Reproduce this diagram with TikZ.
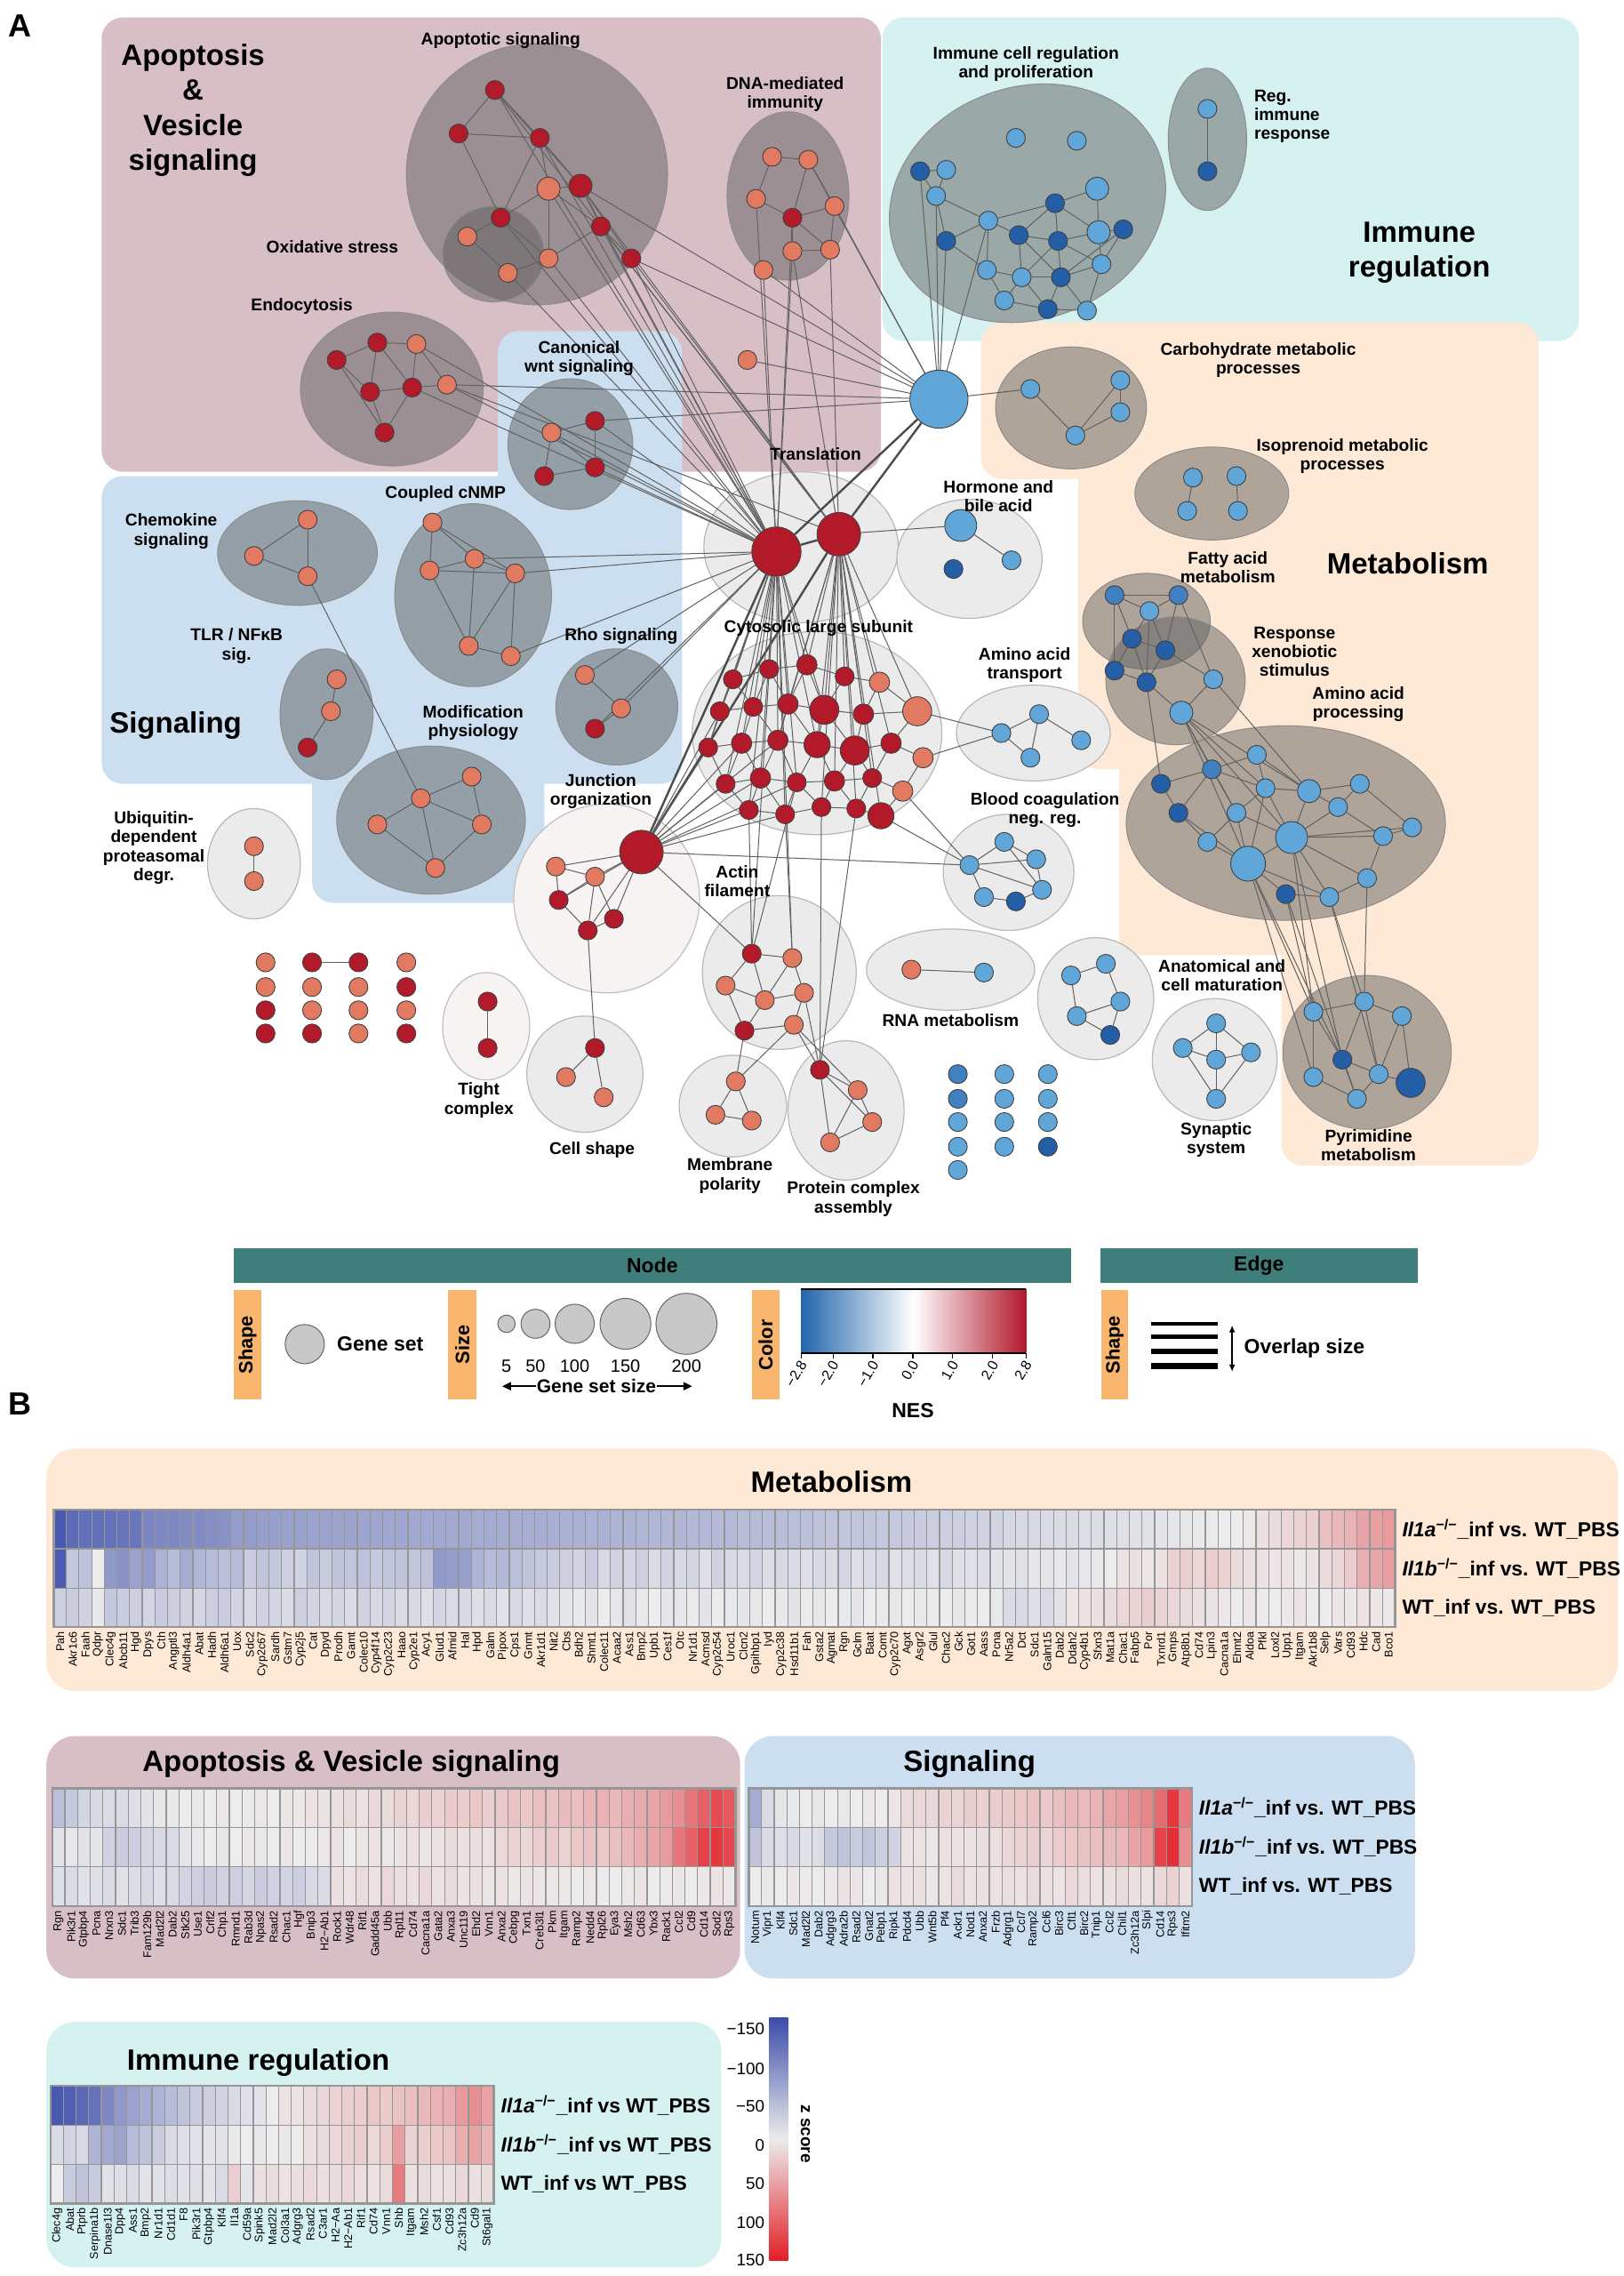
\documentclass[tikz,border=0pt]{standalone}
\usepackage{fontspec}
\setmainfont{Liberation Sans}
\usetikzlibrary{arrows.meta}
\pgfdeclarelayer{bg}
\pgfdeclarelayer{mid}
\pgfsetlayers{bg,mid,main}

\definecolor{dr}{RGB}{178,26,42}
\definecolor{sal}{RGB}{226,122,98}
\definecolor{lb}{RGB}{96,166,216}
\definecolor{mb}{RGB}{64,128,192}
\definecolor{db}{RGB}{36,94,166}
\definecolor{mauve}{RGB}{216,191,198}
\definecolor{cyanbg}{RGB}{213,241,240}
\definecolor{bluebg}{RGB}{203,223,240}
\definecolor{peach}{RGB}{253,233,213}
\definecolor{legteal}{RGB}{62,127,124}
\definecolor{tabor}{RGB}{249,182,110}
\definecolor{hmblue}{RGB}{59,76,170}
\definecolor{hmred}{RGB}{228,30,38}
\definecolor{hmgray}{RGB}{236,236,236}
\definecolor{hmline}{RGB}{150,150,150}
\definecolor{nesblue}{RGB}{33,102,172}
\definecolor{nesred}{RGB}{178,24,43}
\definecolor{pinkwhite}{RGB}{246,243,242}
\definecolor{setgray}{RGB}{200,200,200}

\tikzset{
  lab/.style={font=\bfseries\fontsize{9.6}{10.6}\selectfont, align=center, inner sep=0pt},
  biglab/.style={font=\bfseries\fontsize{16.5}{19.6}\selectfont, align=center, inner sep=0pt},
  gnd/.style={circle, draw=black!75, line width=0.45pt, inner sep=0pt},
  lnk/.style={draw=black!62, line width=0.5pt},
  thk/.style={draw=black!70, line width=1.2pt},
  dcl/.style={fill=black!62, fill opacity=0.5, draw=black!45, line width=0.5pt},
  lcl/.style={fill=black!8, draw=black!28, line width=0.6pt},
  wcl/.style={fill=pinkwhite, draw=black!25, line width=0.6pt},
  gene/.style={font=\fontsize{6.3}{6.3}\selectfont, inner sep=0pt},
  rowlab/.style={font=\bfseries\fontsize{11.4}{12}\selectfont, anchor=west, inner sep=0pt},
  btitle/.style={font=\bfseries\fontsize{16.5}{18}\selectfont, inner sep=0pt},
  legh/.style={font=\bfseries\fontsize{11.5}{12}\selectfont, inner sep=0pt},
  legn/.style={font=\fontsize{10}{10}\selectfont, inner sep=0pt},
  legk/.style={font=\fontsize{8}{8}\selectfont, inner sep=0pt},
  legs/.style={font=\bfseries\fontsize{10.5}{11}\selectfont, inner sep=0pt},
  tabt/.style={font=\bfseries\fontsize{10.9}{11}\selectfont, rotate=90, inner sep=0pt},
  szc/.style={circle, fill=setgray, draw=black!60, line width=0.5pt, inner sep=0pt},
}

\newcommand\gnode[5]{\node[gnd, fill=#4, minimum size=#5*1.632pt] (#1) at (#2,#3) {};}
\newcommand\hmrow[3]{%
  \foreach \vv [count=\ci] in {#3}{%
    \pgfmathtruncatemacro\pp{abs(\vv)}%
    \ifnum\vv<0 \colorlet{cc}{hmblue!\pp!hmgray}\else\colorlet{cc}{hmred!\pp!hmgray}\fi
    \filldraw[fill=cc, draw=hmline, line width=0.6pt] ({#1+(\ci-1)*8.72},#2) rectangle ++(8.72,27);
  }}
\newcommand\hmgenes[4]{%
  \foreach \gname [count=\ci] in {#4}{%
    \node[gene, rotate=90, anchor=east] (#3\ci) at ({#1+(\ci-0.5)*8.72},#2) {\gname};
  }}
\newcommand\koLab[2]{\textit{Il1#1}\textsuperscript{\textminus/\textminus}\_inf vs#2 WT\_PBS}

\begin{document}
\begin{tikzpicture}[x=0.816pt,y=-0.816pt]
\useasboundingbox (0,0) rectangle (1119,1568);

% ---------------- backgrounds ----------------
\begin{pgfonlayer}{bg}
\fill[white] (0,0) rectangle (1119,1568);
\fill[cyanbg, rounded corners=12pt] (608,12) rectangle (1088,235);
\fill[peach, rounded corners=12pt] (676,222) rectangle (1060,330);
\fill[peach, rounded corners=12pt] (743,290) rectangle (1060,530);
\fill[peach, rounded corners=12pt] (771,480) rectangle (1060,658);
\fill[peach, rounded corners=12pt] (883,600) rectangle (1060,803);
\fill[mauve, rounded corners=12pt] (70,12) rectangle (607,325);
\fill[bluebg, rounded corners=12pt] (70,328) rectangle (470,540);
\fill[bluebg, rounded corners=12pt] (343,228) rectangle (470,345);
\fill[bluebg, rounded corners=12pt] (215,480) rectangle (375,622);
% dark clusters
\draw[dcl] (370,120) ellipse [x radius=90, y radius=90];
\draw[dcl] (340,175) ellipse [x radius=35, y radius=33];
\draw[dcl] (543,135) ellipse [x radius=42, y radius=58];
\draw[dcl] (270,268) ellipse [x radius=63, y radius=53];
\draw[dcl] (393,306) ellipse [x radius=43, y radius=45];
\draw[dcl] (205,381) ellipse [x radius=55, y radius=36];
\draw[dcl] (326,410) ellipse [x radius=54, y radius=63];
\draw[dcl] (225,492) ellipse [x radius=32, y radius=45];
\draw[dcl] (425,487) ellipse [x radius=42, y radius=40];
\draw[dcl] (297,565) ellipse [x radius=65, y radius=51];
\draw[dcl, rotate around={20:(708,140)}] (708,140) ellipse [x radius=97, y radius=80];
\draw[dcl] (832,96) ellipse [x radius=27, y radius=49];
\draw[dcl] (738,281) ellipse [x radius=52, y radius=42];
\draw[dcl] (835,340) ellipse [x radius=53, y radius=32];
\draw[dcl] (790,428) ellipse [x radius=44, y radius=33];
\draw[dcl] (810,469) ellipse [x radius=48, y radius=44];
\draw[dcl] (886,567) ellipse [x radius=110, y radius=67];
\draw[dcl] (942,725) ellipse [x radius=58, y radius=53];
% light clusters
\draw[lcl] (552,377) ellipse [x radius=67, y radius=52];
\draw[lcl] (563,505) ellipse [x radius=86, y radius=70];
\draw[lcl] (668,385) ellipse [x radius=50, y radius=41];
\draw[lcl] (712,505) ellipse [x radius=53, y radius=33];
\draw[lcl] (695,601) ellipse [x radius=45, y radius=40];
\draw[lcl] (175,595) ellipse [x radius=32, y radius=38];
\draw[wcl] (418,619) ellipse [x radius=64, y radius=65];
\draw[lcl] (537,670) ellipse [x radius=53, y radius=53];
\draw[lcl] (655,668) ellipse [x radius=58, y radius=28];
\draw[lcl] (755,688) ellipse [x radius=40, y radius=42];
\draw[lcl] (837,730) ellipse [x radius=43, y radius=42];
\draw[wcl] (335,707) ellipse [x radius=30, y radius=37];
\draw[lcl] (403,740) ellipse [x radius=40, y radius=40];
\draw[lcl] (505,762) ellipse [x radius=37, y radius=35];
\draw[lcl] (583,765) ellipse [x radius=40, y radius=48];
% panel B blocks
\fill[peach, rounded corners=16pt] (32,998) rectangle (1115,1165);
\fill[mauve, rounded corners=16pt] (32,1196) rectangle (510,1363);
\fill[bluebg, rounded corners=16pt] (513,1196) rectangle (975,1363);
\fill[cyanbg, rounded corners=16pt] (32,1393) rectangle (497,1562);
\end{pgfonlayer}

% ---------------- network nodes ----------------
% apoptotic signaling
\gnode{a1}{341}{62}{dr}{6.5}
\gnode{a2}{316}{92}{dr}{6.5}
\gnode{a3}{372}{95}{dr}{6.5}
\gnode{a4}{378}{130}{sal}{8}
\gnode{a5}{400}{128}{dr}{8}
\gnode{a6}{414}{156}{dr}{6.5}
\gnode{a7}{345}{150}{dr}{6.5}
\gnode{a8}{322}{163}{sal}{6.5}
\gnode{a9}{350}{188}{sal}{6.5}
\gnode{a10}{378}{178}{sal}{6.5}
\gnode{a11}{435}{178}{dr}{6.5}
% DNA-mediated immunity
\gnode{d1}{532}{108}{sal}{6.5}
\gnode{d2}{557}{110}{sal}{6.5}
\gnode{d3}{521}{137}{sal}{6.5}
\gnode{d4}{546}{150}{dr}{6.5}
\gnode{d5}{575}{142}{sal}{6.5}
\gnode{d6}{546}{173}{sal}{6.5}
\gnode{d7}{572}{172}{sal}{6.5}
\gnode{s1}{526}{186}{sal}{6.5}
\gnode{s2}{515}{248}{sal}{6.5}
% endocytosis
\gnode{e1}{232}{248}{dr}{6.5}
\gnode{e2}{260}{236}{dr}{6.5}
\gnode{e3}{287}{237}{sal}{6.5}
\gnode{e4}{255}{270}{dr}{6.5}
\gnode{e5}{284}{267}{dr}{6.5}
\gnode{e6}{308}{265}{sal}{6.5}
\gnode{e7}{265}{298}{dr}{6.5}
% canonical wnt
\gnode{w1}{410}{290}{dr}{6.5}
\gnode{w2}{380}{298}{sal}{6.5}
\gnode{w3}{410}{322}{dr}{6.5}
\gnode{w4}{375}{328}{dr}{6.5}
% chemokine
\gnode{c1}{212}{358}{sal}{6.5}
\gnode{c2}{175}{383}{sal}{6.5}
\gnode{c3}{212}{397}{sal}{6.5}
% coupled cNMP
\gnode{n1}{298}{360}{sal}{6.5}
\gnode{n2}{327}{385}{sal}{6.5}
\gnode{n3}{296}{393}{sal}{6.5}
\gnode{n4}{355}{395}{sal}{6.5}
\gnode{n5}{323}{445}{sal}{6.5}
\gnode{n6}{352}{452}{sal}{6.5}
% TLR
\gnode{t1}{232}{468}{sal}{6.5}
\gnode{t2}{228}{490}{sal}{6.5}
\gnode{t3}{212}{515}{dr}{6.5}
% Rho
\gnode{r1}{403}{465}{sal}{6.5}
\gnode{r2}{428}{488}{sal}{6.5}
\gnode{r3}{410}{502}{dr}{6.5}
% modification physiology
\gnode{m1}{290}{550}{sal}{6.5}
\gnode{m2}{325}{535}{sal}{6.5}
\gnode{m3}{260}{568}{sal}{6.5}
\gnode{m4}{332}{568}{sal}{6.5}
\gnode{m5}{300}{598}{sal}{6.5}
% ubiquitin
\gnode{u1}{175}{583}{sal}{6.5}
\gnode{u2}{175}{607}{sal}{6.5}
% hubs
\gnode{T1}{535}{380}{dr}{17}
\gnode{T2}{578}{368}{dr}{15}
\gnode{H}{647}{275}{lb}{20}
\gnode{J1}{442}{587}{dr}{15}
% cytosolic large subunit
\gnode{k1}{505}{468}{dr}{6.5}
\gnode{k2}{530}{461}{dr}{6.5}
\gnode{k3}{556}{458}{dr}{7}
\gnode{k4}{582}{466}{dr}{6.5}
\gnode{k5}{606}{470}{sal}{7}
\gnode{k6}{632}{490}{sal}{10}
\gnode{k7}{496}{490}{dr}{6.5}
\gnode{k8}{519}{487}{dr}{6.5}
\gnode{k9}{543}{485}{dr}{7}
\gnode{k10}{568}{489}{dr}{10}
\gnode{k11}{595}{492}{dr}{7}
\gnode{k12}{488}{515}{dr}{6.5}
\gnode{k13}{511}{512}{dr}{7}
\gnode{k14}{536}{510}{dr}{7}
\gnode{k15}{563}{513}{dr}{9}
\gnode{k16}{589}{517}{dr}{10}
\gnode{k17}{614}{512}{dr}{7}
\gnode{k18}{636}{522}{sal}{7}
\gnode{k19}{500}{540}{dr}{6.5}
\gnode{k20}{524}{536}{dr}{7}
\gnode{k21}{549}{539}{dr}{6.5}
\gnode{k22}{575}{538}{dr}{7}
\gnode{k23}{601}{536}{dr}{6.5}
\gnode{k24}{622}{545}{sal}{7}
\gnode{k25}{516}{558}{dr}{6.5}
\gnode{k26}{541}{561}{dr}{6.5}
\gnode{k27}{566}{556}{dr}{6.5}
\gnode{k28}{590}{557}{dr}{6.5}
\gnode{k29}{607}{562}{dr}{9}
% junction
\gnode{j2}{383}{597}{sal}{6.5}
\gnode{j3}{385}{620}{dr}{6.5}
\gnode{j4}{410}{604}{sal}{6.5}
\gnode{j5}{423}{633}{dr}{6.5}
\gnode{j6}{405}{641}{dr}{6.5}
% actin
\gnode{f1}{518}{657}{dr}{6.5}
\gnode{f2}{546}{660}{sal}{6.5}
\gnode{f3}{500}{679}{sal}{6.5}
\gnode{f4}{527}{689}{sal}{6.5}
\gnode{f5}{554}{684}{sal}{6.5}
\gnode{f6}{513}{710}{dr}{6.5}
\gnode{f7}{547}{706}{sal}{6.5}
% tight, cell shape, membrane, protein complex
\gnode{tc1}{336}{690}{dr}{6.5}
\gnode{tc2}{336}{722}{dr}{6.5}
\gnode{cs1}{410}{722}{dr}{6.5}
\gnode{cs2}{390}{742}{sal}{6.5}
\gnode{cs3}{416}{756}{sal}{6.5}
\gnode{mp1}{507}{745}{sal}{6.5}
\gnode{mp2}{493}{768}{sal}{6.5}
\gnode{mp3}{518}{772}{sal}{6.5}
\gnode{pc1}{565}{737}{dr}{6.5}
\gnode{pc2}{591}{751}{sal}{6.5}
\gnode{pc3}{601}{773}{sal}{6.5}
\gnode{pc4}{572}{787}{sal}{6.5}
% hormone, transport, blood, rna
\gnode{h1}{662}{362}{lb}{11}
\gnode{h2}{657}{392}{db}{6.5}
\gnode{h3}{697}{386}{lb}{6.5}
\gnode{at1}{690}{505}{lb}{6.5}
\gnode{at2}{716}{492}{lb}{6.5}
\gnode{at3}{710}{522}{lb}{6.5}
\gnode{at4}{745}{510}{lb}{6.5}
\gnode{b1}{668}{596}{lb}{6.5}
\gnode{b2}{692}{580}{lb}{6.5}
\gnode{b3}{714}{592}{lb}{6.5}
\gnode{b4}{718}{613}{lb}{6.5}
\gnode{b5}{700}{621}{db}{6.5}
\gnode{b6}{678}{618}{lb}{6.5}
\gnode{rn1}{628}{668}{sal}{6.5}
\gnode{rn2}{678}{670}{lb}{6.5}
% anatomical, synaptic
\gnode{an1}{738}{672}{lb}{6.5}
\gnode{an2}{762}{664}{lb}{6.5}
\gnode{an3}{742}{700}{lb}{6.5}
\gnode{an4}{772}{690}{lb}{6.5}
\gnode{an5}{765}{713}{db}{6.5}
\gnode{sy1}{838}{705}{lb}{6.5}
\gnode{sy2}{815}{722}{lb}{6.5}
\gnode{sy3}{838}{730}{lb}{6.5}
\gnode{sy4}{862}{725}{lb}{6.5}
\gnode{sy5}{838}{757}{lb}{6.5}
% immune cell regulation
\gnode{i1}{700}{95}{lb}{6.5}
\gnode{i2}{742}{97}{lb}{6.5}
\gnode{i3}{634}{118}{db}{6.5}
\gnode{i4}{652}{117}{lb}{6.5}
\gnode{i5}{645}{135}{lb}{6.5}
\gnode{i6}{727}{140}{db}{6.5}
\gnode{i7}{756}{130}{lb}{8}
\gnode{i8}{681}{152}{lb}{6.5}
\gnode{i9}{702}{162}{db}{6.5}
\gnode{i10}{729}{166}{db}{6.5}
\gnode{i11}{757}{160}{lb}{8}
\gnode{i12}{774}{158}{db}{6.5}
\gnode{i13}{652}{166}{db}{6.5}
\gnode{i14}{680}{186}{lb}{6.5}
\gnode{i15}{704}{191}{lb}{6.5}
\gnode{i16}{731}{191}{db}{6.5}
\gnode{i17}{759}{182}{lb}{6.5}
\gnode{i18}{722}{213}{db}{6.5}
\gnode{i19}{749}{214}{lb}{6.5}
\gnode{i20}{692}{207}{lb}{6.5}
\gnode{ri1}{832}{75}{lb}{6.5}
\gnode{ri2}{832}{118}{db}{6.5}
% metabolism
\gnode{cb1}{710}{268}{lb}{6.5}
\gnode{cb2}{741}{300}{lb}{6.5}
\gnode{cb3}{772}{262}{lb}{6.5}
\gnode{cb4}{772}{284}{lb}{6.5}
\gnode{ip1}{822}{329}{lb}{6.5}
\gnode{ip2}{852}{328}{lb}{6.5}
\gnode{ip3}{818}{352}{lb}{6.5}
\gnode{ip4}{853}{352}{lb}{6.5}
\gnode{fa1}{768}{410}{mb}{6.5}
\gnode{fa2}{792}{421}{lb}{6.5}
\gnode{fa3}{812}{410}{mb}{6.5}
\gnode{fa4}{780}{440}{db}{6.5}
\gnode{fa5}{803}{448}{db}{6.5}
\gnode{fa6}{790}{470}{db}{6.5}
\gnode{fa7}{836}{468}{lb}{6.5}
\gnode{fa8}{814}{491}{lb}{8}
\gnode{fa9}{768}{462}{db}{6.5}
\gnode{ap1}{860}{595}{lb}{12}
\gnode{ap2}{890}{577}{lb}{11}
\gnode{ap3}{902}{545}{lb}{8}
\gnode{ap4}{872}{543}{lb}{6.5}
\gnode{ap5}{835}{530}{mb}{6.5}
\gnode{ap6}{812}{560}{db}{6.5}
\gnode{ap7}{832}{580}{lb}{6.5}
\gnode{ap8}{852}{560}{lb}{6.5}
\gnode{ap9}{922}{556}{lb}{6.5}
\gnode{ap10}{937}{540}{lb}{6.5}
\gnode{ap11}{953}{576}{lb}{6.5}
\gnode{ap12}{973}{570}{lb}{6.5}
\gnode{ap13}{886}{616}{db}{6.5}
\gnode{ap14}{916}{618}{lb}{6.5}
\gnode{ap15}{942}{605}{lb}{6.5}
\gnode{ap16}{800}{540}{db}{6.5}
\gnode{ap17}{866}{520}{lb}{6.5}
\gnode{py1}{905}{697}{lb}{6.5}
\gnode{py2}{940}{690}{lb}{6.5}
\gnode{py3}{966}{700}{lb}{6.5}
\gnode{py4}{925}{730}{db}{6.5}
\gnode{py5}{950}{740}{lb}{6.5}
\gnode{py6}{972}{746}{db}{10}
\gnode{py7}{935}{757}{lb}{6.5}
\gnode{py8}{905}{742}{lb}{6.5}
% unclustered grids
\gnode{g11}{183}{663}{sal}{6.5}
\gnode{g12}{183}{680}{sal}{6.5}
\gnode{g13}{183}{696}{dr}{6.5}
\gnode{g14}{183}{712}{dr}{6.5}
\gnode{g21}{215}{663}{dr}{6.5}
\gnode{g22}{215}{680}{sal}{6.5}
\gnode{g23}{215}{696}{sal}{6.5}
\gnode{g24}{215}{712}{dr}{6.5}
\gnode{g31}{247}{663}{dr}{6.5}
\gnode{g32}{247}{680}{sal}{6.5}
\gnode{g33}{247}{696}{sal}{6.5}
\gnode{g34}{247}{712}{sal}{6.5}
\gnode{g41}{280}{663}{sal}{6.5}
\gnode{g42}{280}{680}{dr}{6.5}
\gnode{g43}{280}{696}{sal}{6.5}
\gnode{g44}{280}{712}{dr}{6.5}
\gnode{q11}{660}{740}{mb}{6.5}
\gnode{q12}{660}{757}{mb}{6.5}
\gnode{q13}{660}{773}{lb}{6.5}
\gnode{q14}{660}{790}{lb}{6.5}
\gnode{q15}{660}{806}{lb}{6.5}
\gnode{q21}{692}{740}{lb}{6.5}
\gnode{q22}{692}{757}{lb}{6.5}
\gnode{q23}{692}{773}{lb}{6.5}
\gnode{q24}{692}{790}{lb}{6.5}
\gnode{q31}{722}{740}{lb}{6.5}
\gnode{q32}{722}{757}{lb}{6.5}
\gnode{q33}{722}{773}{lb}{6.5}
\gnode{q34}{722}{790}{db}{6.5}

% ---------------- edges ----------------
\begin{pgfonlayer}{mid}
\foreach \a/\b in {a1/a2,a1/a3,a2/a3,a2/a7,a3/a4,a3/a5,a4/a5,a4/a7,a5/a6,a4/a10,a7/a8,a7/a10,a8/a9,a9/a10,a10/a6,a5/a11,a6/a11,a1/a5,a3/a7,a4/a6,
  d1/d2,d1/d3,d2/d4,d3/d4,d4/d5,d4/d6,d4/d7,d6/d7,d5/d7,d2/d5,
  e1/e2,e2/e3,e1/e4,e2/e4,e2/e5,e3/e5,e4/e5,e5/e6,e4/e7,e5/e7,e3/e6,e1/e7,
  w1/w2,w1/w3,w2/w4,w3/w4,w2/w3,
  c1/c2,c1/c3,c2/c3,c3/m1,
  n1/n2,n1/n3,n2/n3,n2/n4,n3/n4,n3/n5,n4/n5,n1/n4,n2/n5,n4/n6,n5/n6,
  t1/t2,t2/t3,r1/r2,r2/r3,
  m1/m2,m1/m3,m1/m4,m2/m4,m3/m5,m4/m5,m1/m5,
  u1/u2,tc1/tc2,cs1/cs2,cs1/cs3,mp1/mp2,mp1/mp3,mp2/mp3,pc1/pc2,pc1/pc3,pc2/pc3,pc3/pc4,pc1/pc4,pc2/pc4}
  \draw[lnk] (\a) -- (\b);
\foreach \a/\b in {a1/T1,a3/T1,a5/T1,a4/T1,a6/T1,a11/T1,a11/T2,a10/T1,a9/T1,a5/T2,a6/T2,a7/T1,a1/T2,
  d4/T1,d6/T1,d7/T2,d6/T2,s1/T1,d3/T1,e3/T1,e5/T1,e6/T1,e6/T2,w1/T1,w3/T1,w2/T1,
  n2/T1,n4/T1,n6/T1,r1/T1,r2/T1,r3/T1,
  H/s2,H/e6,H/w1,H/a11,H/a5,H/d5,H/d2,H/i3,H/i5,H/i13,H/i8,H/cb1,T2/h1,s1/H}
  \draw[lnk] (\a) -- (\b);
\foreach \a/\b in {T1/T2,T1/H,T2/H,J1/T1,J1/T2}
  \draw[thk] (\a) -- (\b);
\foreach \a/\b in {k1/T1,k2/T1,k3/T1,k3/T2,k4/T2,k5/T2,k6/T2,k7/T1,k8/T1,k9/T1,k10/T1,k10/T2,k11/T2,k12/T1,k13/T1,k14/T1,k15/T1,k15/T2,k16/T2,k17/T2,k19/T1,k20/T1,k21/T1,k22/T2,k23/T2,k25/T1,k26/T1,k27/T2,k28/T2,k29/T2,k14/T2,k9/T2,
  k1/k2,k2/k3,k3/k4,k4/k5,k5/k6,k1/k7,k7/k8,k8/k9,k9/k10,k10/k11,k11/k6,k7/k12,k12/k13,k13/k14,k14/k15,k15/k16,k16/k17,k17/k18,k12/k19,k19/k20,k20/k21,k21/k22,k22/k23,k23/k24,k19/k25,k25/k26,k26/k27,k27/k28,k28/k29,
  k2/k8,k3/k9,k4/k10,k5/k11,k8/k13,k9/k14,k10/k15,k11/k16,k13/k20,k14/k21,k15/k22,k16/k23,k20/k25,k21/k26,k22/k27,k23/k28,k24/k29,k1/k8,k2/k9,k3/k10,k8/k14,k9/k15,k10/k16,k14/k20,k15/k21,k16/k22,k17/k23,k20/k26,k21/k27,k22/k28,k6/k17,k18/k24,k13/k19,
  J1/k7,J1/k12,J1/k13,J1/k19,J1/k20,J1/k25,J1/k14,J1/j2,J1/j3,J1/j4,J1/j5,J1/j6,J1/b1,J1/f1,J1/k26,J1/k21,
  j2/j3,j2/j4,j3/j4,j4/j5,j5/j6,j3/j6,j4/j6,j6/cs1,
  f1/f2,f1/f3,f1/f4,f2/f5,f3/f4,f4/f5,f4/f6,f5/f7,f6/f7,f2/f4,f3/f6,f1/k25,f2/k26,f1/k21,f1/T1,f2/T1,f6/mp1,f7/pc1,f5/pc1,f7/pc2,k28/pc1,k27/pc1,f7/mp1,
  k6/at1,k18/at1,k24/b1,k29/b1,h1/h3,at1/at2,at2/at4,at1/at3,at2/at3,
  b1/b2,b2/b3,b3/b4,b4/b5,b5/b6,b6/b1,b1/b3,b2/b4,b1/b4,rn1/rn2,
  an1/an2,an1/an3,an2/an4,an3/an4,an4/an5,an3/an5,
  sy1/sy2,sy1/sy3,sy1/sy4,sy2/sy3,sy3/sy4,sy2/sy5,sy3/sy5,sy4/sy5,
  ri1/ri2,cb1/cb2,cb3/cb4,cb2/cb4,cb2/cb3,ip1/ip3,ip2/ip4,g21/g31}
  \draw[lnk] (\a) -- (\b);
\foreach \a/\b in {i3/i4,i3/i5,i4/i5,i5/i8,i5/i13,i8/i9,i8/i13,i8/i14,i9/i10,i9/i6,i6/i7,i6/i10,i7/i11,i10/i11,i11/i12,i10/i16,i9/i15,i14/i15,i15/i16,i16/i17,i17/i11,i17/i12,i16/i18,i18/i19,i19/i17,i15/i20,i20/i18,i13/i14,i6/i11,i9/i16,i10/i17,i14/i20,i15/i18,i16/i19,i6/i8,i10/i15,i12/i16,
  fa1/fa2,fa1/fa3,fa2/fa3,fa1/fa4,fa2/fa4,fa2/fa5,fa3/fa5,fa4/fa5,fa4/fa6,fa5/fa6,fa5/fa7,fa6/fa8,fa7/fa8,fa3/fa7,fa4/fa9,fa9/fa6,fa1/fa9,fa2/fa6,
  fa8/ap5,fa8/ap3,fa8/ap1,fa8/ap2,fa6/ap16,fa7/ap3,fa8/ap8,fa8/ap4,
  ap1/ap2,ap1/ap7,ap1/ap8,ap1/ap13,ap1/ap14,ap2/ap3,ap2/ap4,ap2/ap9,ap2/ap11,ap2/ap14,ap2/ap15,ap3/ap4,ap3/ap9,ap3/ap10,ap4/ap8,ap4/ap5,ap5/ap6,ap5/ap8,ap6/ap7,ap6/ap16,ap7/ap8,ap8/ap2,ap9/ap10,ap9/ap11,ap10/ap12,ap11/ap12,ap11/ap15,ap13/ap14,ap14/ap15,ap1/ap6,ap16/ap5,ap1/ap4,ap2/ap12,ap17/ap3,ap17/ap4,ap17/ap5,
  ap1/py1,ap1/py4,ap2/py4,ap13/py1,ap13/py7,ap14/py2,ap14/py5,ap15/py2,ap2/py1,ap1/py8,
  py1/py2,py1/py4,py2/py3,py2/py4,py3/py6,py4/py5,py5/py6,py4/py7,py7/py8,py1/py8,py5/py7,py2/py5,py3/py5}
  \draw[lnk] (\a) -- (\b);
\end{pgfonlayer}

% ---------------- network labels ----------------
\node[font=\bfseries\fontsize{18}{18}\selectfont, inner sep=0pt] (pA) at (14,18) {A};
\node[biglab] (rApo) at (133,76) {Apoptosis\\\&\\Vesicle\\signaling};
\node[biglab] (rImm) at (978,174) {Immune\\regulation};
\node[biglab] (rMet) at (970,388) {Metabolism};
\node[biglab] (rSig) at (121,500) {Signaling};
\node[lab] (lApo) at (345,28) {Apoptotic signaling};
\node[lab] (lDNA) at (541,65) {DNA-mediated\\immunity};
\node[lab] (lOx) at (229,170) {Oxidative stress};
\node[lab] (lEndo) at (208,211) {Endocytosis};
\node[lab] (lWnt) at (399,247) {Canonical\\wnt signaling};
\node[lab] (lcNMP) at (307,340) {Coupled cNMP};
\node[lab] (lChem) at (118,366) {Chemokine\\signaling};
\node[lab] (lTLR) at (163,445) {TLR / NFκB\\sig.};
\node[lab] (lRho) at (428,438) {Rho signaling};
\node[lab] (lMod) at (326,498) {Modification\\physiology};
\node[lab] (lTrans) at (562,313) {Translation};
\node[lab] (lCyto) at (564,433) {Cytosolic large subunit};
\node[lab] (lJunc) at (414,545) {Junction\\organization};
\node[lab] (lActin) at (508,607) {Actin\\filament};
\node[lab] (lHorm) at (688,342) {Hormone and\\bile acid};
\node[lab] (lAAT) at (706,458) {Amino acid\\transport};
\node[lab] (lBlood) at (720,558) {Blood coagulation\\neg. reg.};
\node[lab] (lUbi) at (106,584) {Ubiquitin-\\dependent\\proteasomal\\degr.};
\node[lab] (lRNA) at (655,703) {RNA metabolism};
\node[lab] (lAnat) at (842,672) {Anatomical and\\cell maturation};
\node[lab] (lSyn) at (838,785) {Synaptic\\system};
\node[lab] (lTight) at (330,758) {Tight\\complex};
\node[lab] (lCell) at (408,792) {Cell shape};
\node[lab] (lMemb) at (503,810) {Membrane\\polarity};
\node[lab] (lProt) at (588,826) {Protein complex\\assembly};
\node[lab] (lImm) at (707,44) {Immune cell regulation\\and proliferation};
\node[lab, align=left, anchor=west] (lReg) at (864,80) {Reg.\\immune\\response};
\node[lab] (lCarb) at (867,248) {Carbohydrate metabolic\\processes};
\node[lab] (lIso) at (925,314) {Isoprenoid metabolic\\processes};
\node[lab] (lFat) at (846,391) {Fatty acid\\metabolism};
\node[lab] (lXen) at (892,449) {Response\\xenobiotic\\stimulus};
\node[lab] (lAAP) at (936,485) {Amino acid\\processing};
\node[lab] (lPyr) at (943,789) {Pyrimidine\\metabolism};

% ---------------- legend ----------------
\fill[legteal] (161,860) rectangle (738,884);
\node[legh] (hNode) at (449.5,872) {Node};
\fill[legteal] (758,860) rectangle (977,884);
\node[legh] (hEdge) at (867.5,872) {Edge};
\fill[tabor] (161,889) rectangle (180,964);
\node[tabt] (tShape) at (170.5,926.5) {Shape};
\fill[tabor] (309,889) rectangle (328,964);
\node[tabt] (tSize) at (318.5,926.5) {Size};
\fill[tabor] (518,889) rectangle (537,964);
\node[tabt] (tColor) at (527.5,926.5) {Color};
\fill[tabor] (759,889) rectangle (777,964);
\node[tabt] (tShapeE) at (768,926.5) {Shape};
\node[szc, minimum size=27*0.816pt] (gsc) at (210,926) {};
\node[legh, anchor=west] (gstxt) at (232,926) {Gene set};
\node[szc, minimum size=12*0.816pt] (sz1) at (349,912) {};
\node[szc, minimum size=20*0.816pt] (sz2) at (369,912) {};
\node[szc, minimum size=27*0.816pt] (sz3) at (396,912) {};
\node[szc, minimum size=35*0.816pt] (sz4) at (431,912) {};
\node[szc, minimum size=42*0.816pt] (sz5) at (473,912) {};
\node[legn] (szl1) at (349,941) {5};
\node[legn] (szl2) at (369,941) {50};
\node[legn] (szl3) at (396,941) {100};
\node[legn] (szl4) at (431,941) {150};
\node[legn] (szl5) at (473,941) {200};
\node[legs] (gss) at (411,955) {Gene set size};
\coordinate (gssL) at (346,955);
\coordinate (gssR) at (477,955);
\draw[-{Triangle[length=5pt,width=4.5pt]}, line width=1.1pt] (gss.west) -- (gssL);
\draw[-{Triangle[length=5pt,width=4.5pt]}, line width=1.1pt] (gss.east) -- (gssR);
\shade[left color=nesblue, right color=nesred, middle color=white] (552,888) rectangle (707,932);
\draw[line width=1pt] (552,888) -- (707,888);
\draw[line width=1pt] (552,932) -- (707,932);
\foreach \xx/\tt [count=\ci] in {552/−2.8,574/−2.0,601.5/−1.0,629/0.0,656.5/1.0,684/2.0,707/2.8}{
  \draw[line width=0.6pt] (\xx,932) -- (\xx,936);
  \node[legk, rotate=60, anchor=east] (nt\ci) at (\xx+1.5,938) {\tt};
}
\node[legh] (nes) at (629,972) {NES};
\draw[line width=1.8pt] (793,912) -- (839,912);
\draw[line width=2.5pt] (793,921) -- (839,921);
\draw[line width=3.1pt] (793,931) -- (839,931);
\draw[line width=3.8pt] (793,941) -- (839,941);
\coordinate (ovT) at (849,913);
\coordinate (ovB) at (849,945);
\draw[{Latex[length=4pt,width=3.5pt]}-{Latex[length=4pt,width=3.5pt]}, line width=0.8pt] (ovT) -- (ovB);
\node[legh, anchor=west] (ovl) at (857,929) {Overlap size};

% ---------------- panel B ----------------
\node[font=\bfseries\fontsize{18}{18}\selectfont, inner sep=0pt] (pB) at (14,967) {B};
\node[btitle] (bMet) at (573,1021) {Metabolism};
\node[btitle] (bApo) at (242,1215) {Apoptosis \& Vesicle signaling};
\node[btitle] (bSig) at (668,1215) {Signaling};
\node[btitle] (bImm) at (178,1421) {Immune regulation};

% Metabolism heatmap
\hmrow{37}{1040}{-92,-80,-78,-78,-76,-75,-74,-64,-62,-62,-60,-60,-58,-56,
-50,-50,-48,-48,-47,-47,-46,-46,-45,-45,-44,-44,-43,-43,-42,-42,-42,-41,-41,-40,-40,-40,-39,-39,-38,-38,
-37,-37,-36,-36,-35,-35,-34,-34,-33,-33,-32,-32,-31,-31,-30,-30,-29,-29,-28,-28,
-26,-25,-24,-24,-23,-22,-22,-21,-20,-19,-18,-18,-17,-16,-15,
-13,-12,-12,-11,-10,-10,-9,-9,-8,-7,-6,-6,-5,-4,-3,
-2,-1,0,0,2,6,8,10,12,13,22,25,27,35,37,40}
\hmrow{37}{1067}{-90,-22,-26,0,-52,-56,-46,-50,-36,-30,-40,-34,-30,-28,-30,
-20,-25,-22,-18,-15,-25,-20,-25,-24,-26,-22,-24,-25,-23,-26,-52,-50,-48,
-35,-30,-32,-28,-25,-22,-20,
-18,-15,-20,-12,-16,-14,-18,-10,-15,-12,-14,-8,-16,-12,-10,-14,-9,-12,-10,-8,
-12,-10,-14,-8,-10,-12,-6,-9,-10,-7,-12,-8,-6,-9,-5,
-5,-6,-3,-4,-2,-5,-3,-2,0,4,6,3,5,12,14,10,15,12,8,6,4,3,5,2,4,8,10,16,30,34,38}
\hmrow{37}{1094}{-18,-20,-16,-2,-22,-20,-18,-15,-20,-18,-16,-14,-18,-20,-15,-12,-16,-14,-10,-18,-15,-12,-14,-10,-16,-12,-14,-10,-12,-8,-14,-10,-12,-8,-10,-6,-12,-8,-10,-6,
-4,-2,-5,0,-3,-6,-2,0,-4,-3,-1,-5,0,-2,-4,-3,0,-2,-5,-1,-3,0,-2,-4,0,-1,-3,0,-2,-1,0,-3,-1,0,-2,
-10,-12,-8,-11,-6,3,5,6,8,10,12,14,12,10,8,6,4,2,0,3,1,0,2,4,1,0,3,2,5,3,2}
\draw[hmline, line width=1.2pt] (37,1040) rectangle ({37+106*8.72},1121);
\hmgenes{37}{1124}{mg}{Pah,Akr1c6,Faah,Qdpr,Clec4g,Abcb11,Hgd,Dpys,Cth,Angptl3,Aldh4a1,Abat,Hadh,Aldh6a1,Uox,Sdc2,Cyp2c67,Sardh,Gstm7,Cyp2j5,Cat,Dpyd,Prodh,Gamt,Colec10,Cyp4f14,Cyp2c23,Haao,Cyp2e1,Acy1,Glud1,Afmid,Hal,Hpd,Galm,Pipox,Cps1,Gnmt,Akr1d1,Nit2,Cbs,Bdh2,Shmt1,Colec11,Acaa2,Ass1,Bmp2,Upb1,Ces1f,Otc,Nr1d1,Acmsd,Cyp2c54,Uroc1,Clcn2,Gpihbp1,Iyd,Cyp2c38,Hsd11b1,Fah,Gsta2,Agmat,Rgn,Gclm,Baat,Comt,Cyp2c70,Agxt,Asgr2,Glul,Chac2,Gck,Got1,Aass,Pcna,Nr5a2,Dct,Sdc1,Galnt15,Dab2,Ddah2,Cyp4b1,Sfxn3,Mat1a,Chac1,Fabp5,Por,Txnrd1,Gmps,Atp8b1,Cd74,Lpin3,Cacna1a,Ehmt2,Aldoa,Pfkl,Loxl2,Upp1,Itgam,Akr1b8,Selp,Vars,Cd93,Hdc,Cad,Bco1}
\node[rowlab] (mr1) at (966,1053.5) {\koLab{a}{.}};
\node[rowlab] (mr2) at (966,1080.5) {\koLab{b}{.}};
\node[rowlab] (mr3) at (966,1107.5) {WT\_inf vs. WT\_PBS};

% Apoptosis heatmap
\hmrow{36}{1232}{-28,-22,-14,-12,-10,-10,-8,-5,-3,-2,0,-2,0,2,0,-1,2,0,3,2,5,4,6,8,6,9,8,12,10,14,12,16,15,18,14,17,20,18,22,20,24,22,26,28,25,30,32,35,40,45,58,68,78,72}
\hmrow{36}{1259}{-5,-3,-6,-4,-16,-20,-18,-14,-12,-10,-4,-2,0,-3,0,2,-2,0,3,0,-1,2,4,0,3,5,2,4,6,3,5,8,6,7,5,10,12,9,14,16,12,18,20,17,22,25,30,35,40,58,68,82,88,80}
\hmrow{36}{1286}{-8,-10,-6,-8,-10,-7,-9,-12,-8,-10,-15,-18,-20,-16,-18,-14,-20,-17,-15,-18,-12,-10,6,4,8,5,10,7,6,9,5,8,4,6,3,5,2,4,3,2,2,0,3,1,0,2,4,0,1,3,0,2,4,2}
\draw[hmline, line width=1.2pt] (36,1232) rectangle ({36+54*8.72},1313);
\hmgenes{36}{1316}{ag}{Rgn,Pik3r1,Gtpbp4,Pcna,Nrxn3,Sdc1,Trib3,Fam129b,Mad2l2,Dab2,Stk25,Use1,Crlf2,Chp1,Rmnd1,Rab3d,Npas2,Rsad2,Chac1,Hgf,Bnip3,H2−Ab1,Rock1,Wdr48,Rif1,Gadd45a,Ubb,Rpl11,Cd74,Cacna1a,Gata2,Anxa3,Unc119,Ehd2,Vnn1,Anxa2,Cebpg,Txn1,Creb3l1,Pkm,Itgam,Ramp2,Nedd4,Rpl26,Eya3,Msh2,Cd63,Ybx3,Rack1,Ccl2,Cd9,Cd14,Sod2,Rps3}

% Signaling heatmap
\hmrow{516}{1232}{-40,-10,-4,-2,0,-3,0,-2,0,2,0,3,8,10,9,12,11,14,13,15,16,18,20,17,22,25,24,28,34,38,44,50,62,88,55}
\hmrow{516}{1259}{-25,-10,-8,-12,-6,-9,-22,-25,-20,-24,-18,-15,4,5,3,6,5,4,7,6,10,12,14,11,16,18,20,22,24,25,35,40,82,92,45}
\hmrow{516}{1286}{0,2,0,3,1,0,2,4,3,0,2,5,4,6,3,5,8,4,6,5,7,5,8,6,4,9,7,5,6,8,6,5,10,12,6}
\draw[hmline, line width=1.2pt] (516,1232) rectangle ({516+35*8.72},1313);
\hmgenes{516}{1316}{sg}{Notum,Vipr1,Klf4,Sdc1,Mad2l2,Dab2,Adgrg3,Adra2b,Rsad2,Gnat2,Pebp1,Ripk1,Pdcd4,Ubb,Wnt5b,Pf4,Ackr1,Nod1,Anxa2,Frzb,Adgrg1,Ccl7,Ramp2,Ccl6,Birc3,Cfl1,Birc2,Tnip1,Ccl2,Chil1,Zc3h12a,Slpi,Cd14,Rps3,Ifitm2}
\node[rowlab] (sr1) at (826,1245.5) {\koLab{a}{.}};
\node[rowlab] (sr2) at (826,1272.5) {\koLab{b}{.}};
\node[rowlab] (sr3) at (826,1299.5) {WT\_inf vs. WT\_PBS};

% Immune heatmap
\hmrow{35}{1437}{-92,-88,-82,-76,-62,-52,-46,-40,-35,-30,-25,-20,-18,-15,-10,-8,-5,0,5,5,8,10,12,14,15,18,16,20,22,25,28,30,40,46,36}
\hmrow{35}{1464}{-10,-15,-12,-35,-42,-45,-30,-26,-20,-10,-8,-6,-4,-5,-2,0,-3,0,2,0,6,8,10,12,14,10,15,38,12,14,18,20,30,35,26}
\hmrow{35}{1491}{0,-20,-25,-20,-6,-8,-10,-5,-7,-9,-6,-8,-5,-10,14,-4,6,8,5,7,9,6,8,10,7,5,8,55,6,8,5,7,9,6,8}
\draw[hmline, line width=1.2pt] (35,1437) rectangle ({35+35*8.72},1518);
\hmgenes{35}{1521}{ig}{Clec4g,Abat,Ptprb,Serpina1b,Dnase1l3,Dpp4,Ass1,Bmp2,Nr1d1,Cd1d1,F8,Pik3r1,Gtpbp4,Klf4,Il1a,Cd59a,Spink5,Mad2l2,Col3a1,Adgrg3,Rsad2,C3ar1,H2−Aa,H2−Ab1,Rif1,Cd74,Vnn1,Shb,Itgam,Msh2,Csf1,Cd93,Zc3h12a,Cd9,St6gal1}
\node[rowlab] (ir1) at (345,1450.5) {\koLab{a}{}};
\node[rowlab] (ir2) at (345,1477.5) {\koLab{b}{}};
\node[rowlab] (ir3) at (345,1504.5) {WT\_inf vs WT\_PBS};

% z score colour bar
\shade[top color=hmblue, bottom color=hmred, middle color=hmgray] (530,1390) rectangle (543,1557);
\foreach \yy/\tt [count=\ci] in {1398/−150,1425/−100,1451/−50,1478/0,1504/50,1531/100,1557/150}
  \node[font=\fontsize{9.4}{10}\selectfont, anchor=east, inner sep=0pt] (zt\ci) at (527,\yy) {\tt};
\node[font=\bfseries\fontsize{9.5}{10}\selectfont, rotate=-90, inner sep=0pt] (zlab) at (555,1470) {z score};
\end{tikzpicture}
\end{document}
